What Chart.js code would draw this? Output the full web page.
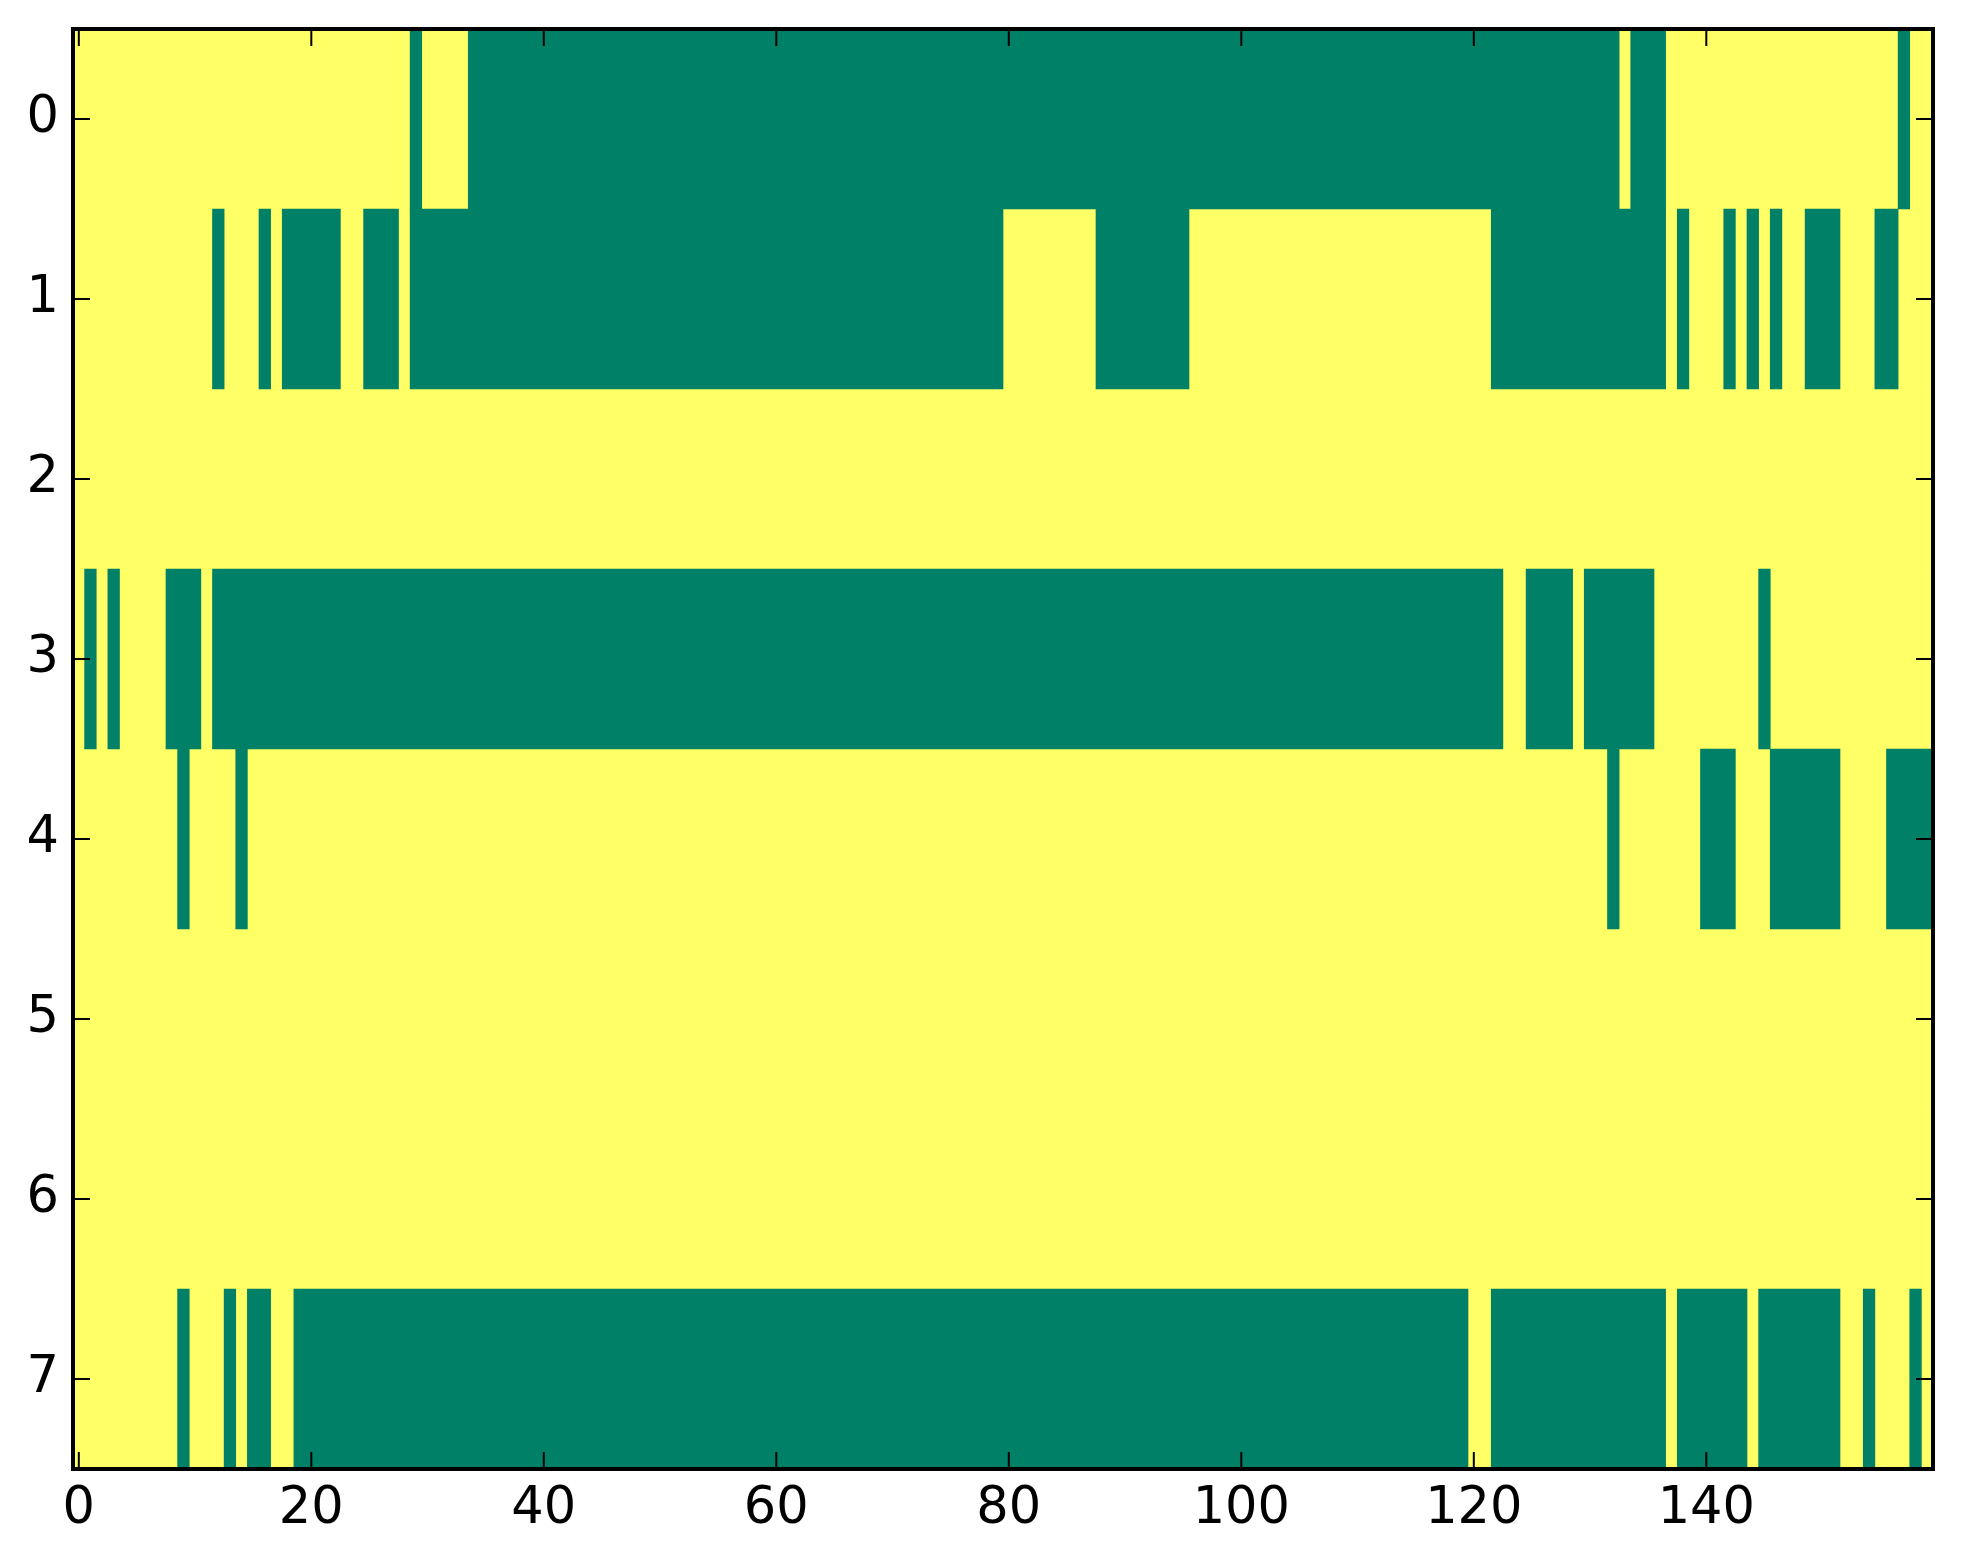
<!DOCTYPE html>
<html>
<head>
<meta charset="utf-8">
<script src="https://cdn.jsdelivr.net/npm/chart.js@4"></script>
<style>
  html, body { margin: 0; padding: 0; background: #fff; }
  canvas { display: block; }
</style>
</head>
<body>
<canvas id="myChart" width="1963" height="1564"></canvas>
<script>
var rowLabels = ['0', '1', '2', '3', '4', '5', '6', '7'];
var columnCount = 160;
var xTickValues = [0, 20, 40, 60, 80, 100, 120, 140];

// green cells (value 0) per row as [first column, last column]; all other cells are yellow (value 1)
var row0Green = [[29, 29], [34, 132], [134, 136], [157, 157]];
var row1Green = [[12, 12], [16, 16], [18, 22], [25, 27], [29, 79], [88, 95], [122, 136],
                 [138, 138], [142, 142], [144, 144], [146, 146], [149, 151], [155, 156]];
var row2Green = [];
var row3Green = [[1, 1], [3, 3], [8, 10], [12, 122], [125, 128], [130, 135], [145, 145]];
var row4Green = [[9, 9], [14, 14], [132, 132], [140, 142], [146, 151], [156, 159]];
var row5Green = [];
var row6Green = [];
var row7Green = [[9, 9], [13, 13], [15, 16], [19, 119], [122, 136], [138, 143], [145, 151],
                 [154, 154], [158, 158]];

var greenRuns = [row0Green, row1Green, row2Green, row3Green, row4Green, row5Green, row6Green, row7Green];

var green = '#008066';
var yellow = '#ffff66';

// green runs first; chart.js paints the last dataset at the bottom, so the full yellow rows go last
var datasets = [];
var maxRuns = Math.max.apply(null, greenRuns.map(function (r) { return r.length; }));
for (var k = 0; k < maxRuns; k++) {
    datasets.push({
        label: 'value 0',
        data: greenRuns.map(function (runs) {
            return runs[k] ? [runs[k][0] - 0.5, runs[k][1] + 0.5] : null;
        }),
        backgroundColor: green
    });
}
datasets.push({
    label: 'value 1',
    data: rowLabels.map(function () { return [-0.5, columnCount - 0.5]; }),
    backgroundColor: yellow
});

var tickFont = { family: 'DejaVu Sans', size: 51 };

var framePlugin = {
    id: 'frame',
    afterDraw: function (chart) {
        var ctx = chart.ctx;
        var a = chart.chartArea;
        var xs = chart.scales.x;
        var ys = chart.scales.y;
        ctx.save();
        ctx.strokeStyle = '#000';
        ctx.lineWidth = 2;
        ctx.beginPath();
        xTickValues.forEach(function (v) {
            var px = xs.getPixelForValue(v);
            ctx.moveTo(px, a.bottom);
            ctx.lineTo(px, a.bottom - 17);
            ctx.moveTo(px, a.top);
            ctx.lineTo(px, a.top + 17);
        });
        rowLabels.forEach(function (l, i) {
            var py = ys.getPixelForValue(i);
            ctx.moveTo(a.left, py);
            ctx.lineTo(a.left + 17, py);
            ctx.moveTo(a.right, py);
            ctx.lineTo(a.right - 17, py);
        });
        ctx.stroke();
        ctx.lineWidth = 4;
        ctx.strokeRect(a.left, a.top, a.right - a.left, a.bottom - a.top);
        ctx.restore();
    }
};

var canvas = document.getElementById('myChart');
var ctx = canvas.getContext('2d');

var myChart = new Chart(ctx, {
    type: 'bar',
    data: {
        labels: rowLabels,
        datasets: datasets
    },
    options: {
        indexAxis: 'y',
        responsive: false,
        devicePixelRatio: 1,
        animation: false,
        grouped: false,
        barPercentage: 1,
        categoryPercentage: 1,
        borderWidth: 0,
        layout: {
            padding: { top: 29, right: 30, left: 0, bottom: 0 }
        },
        plugins: {
            legend: { display: false },
            tooltip: { enabled: false }
        },
        scales: {
            x: {
                type: 'linear',
                min: -0.5,
                max: columnCount - 0.5,
                afterBuildTicks: function (scale) {
                    scale.ticks = xTickValues.map(function (v) { return { value: v }; });
                },
                afterFit: function (scale) {
                    scale.height = 95;
                    scale.paddingLeft = 0;
                    scale.paddingRight = 0;
                },
                grid: { display: false, drawTicks: false },
                border: { display: false },
                ticks: { font: tickFont, color: '#000', padding: 10, maxRotation: 0, autoSkip: false }
            },
            y: {
                type: 'category',
                labels: rowLabels,
                offset: true,
                afterFit: function (scale) {
                    scale.width = 73;
                    scale.paddingTop = 0;
                    scale.paddingBottom = 0;
                },
                grid: { display: false, drawTicks: false },
                border: { display: false },
                ticks: { font: tickFont, color: '#000', padding: 14 }
            }
        }
    },
    plugins: [framePlugin]
});
</script>
</body>
</html>
